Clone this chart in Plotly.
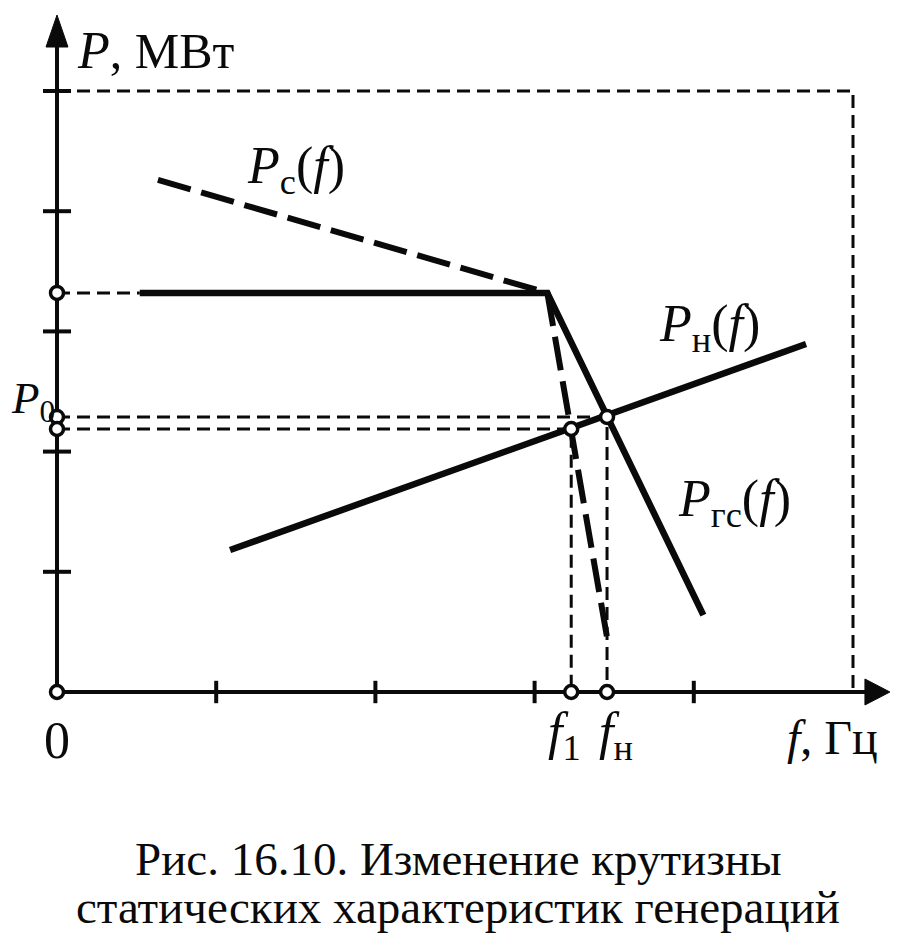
import plotly.graph_objects as go

# ---- data (axis units) ----
f_c = [0.634, 3.08, 3.46]      # P_c(f) dashed characteristic
P_c = [4.26, 3.32, 0.416]
f_gs = [0.52, 3.08, 4.06]      # P_gs(f) generation characteristic
P_gs = [3.32, 3.32, 0.64]
f_n = [1.087, 4.705]           # P_n(f) load characteristic
P_n = [1.181, 2.895]
f1 = 3.23
f_nom = 3.455
P0 = 2.288
P1 = 2.188
P_max = 3.32
f_lim = 5
P_lim = 5
x_ticks = [1, 2, 3, 4]
y_ticks = [1, 2, 3, 4, 5]

BLACK = "#0a0a0a"
SERIF = "Liberation Serif"
W, H = 900, 930

fig = go.Figure()

guide = dict(color=BLACK, width=3, dash="13px,7px")
fig.add_trace(go.Scatter(x=[0, f_lim, f_lim], y=[P_lim, P_lim, 0], mode="lines", line=guide))
fig.add_trace(go.Scatter(x=[0, f_gs[0]], y=[P_max, P_max], mode="lines", line=guide))
fig.add_trace(go.Scatter(x=[0, f_nom, f_nom], y=[P0, P0, 0], mode="lines", line=guide))
fig.add_trace(go.Scatter(x=[0, f1, f1], y=[P1, P1, 0], mode="lines", line=guide))

fig.add_trace(go.Scatter(x=f_c, y=P_c, mode="lines",
                         line=dict(color=BLACK, width=6, dash="34px,11px")))
fig.add_trace(go.Scatter(x=f_gs, y=P_gs, mode="lines", line=dict(color=BLACK, width=6.5)))
fig.add_trace(go.Scatter(x=f_n, y=P_n, mode="lines", line=dict(color=BLACK, width=6.5)))

# tick marks
fig.add_trace(go.Scatter(x=[0] * len(y_ticks), y=y_ticks, mode="markers",
                         marker=dict(symbol="line-ew", size=20, line=dict(color=BLACK, width=4))))
fig.add_trace(go.Scatter(x=x_ticks, y=[0] * len(x_ticks), mode="markers",
                         marker=dict(symbol="line-ns", size=16, line=dict(color=BLACK, width=4))))

# open circles
fig.add_trace(go.Scatter(x=[0, 0, 0, 0, f1, f_nom, f1, f_nom],
                         y=[0, P_max, P0, P1, P1, P0, 0, 0], mode="markers",
                         marker=dict(symbol="circle", size=13, color="white",
                                     line=dict(color=BLACK, width=3.5))))

# axes with arrows (drawn below traces)
fig.add_shape(type="line", x0=0, y0=0, x1=0, y1=5.45, line=dict(color=BLACK, width=4), layer="below")
fig.add_shape(type="line", x0=0, y0=0, x1=5.12, y1=0, line=dict(color=BLACK, width=4), layer="below")
fig.add_shape(type="path", path="M -0.069,5.366 L 0,5.632 L 0.069,5.366 Z",
              fillcolor=BLACK, line=dict(color=BLACK, width=1), layer="below")
fig.add_shape(type="path", path="M 5.075,-0.108 L 5.232,0 L 5.075,0.108 Z",
              fillcolor=BLACK, line=dict(color=BLACK, width=1), layer="below")

def label(text, x, y, size, xanchor="left", yanchor="middle"):
    fig.add_annotation(x=x, y=y, text=text, showarrow=False, xanchor=xanchor, yanchor=yanchor,
                       font=dict(family=SERIF, size=size, color=BLACK))

label("<i>P</i><span style='font-size:50px'>, МВт</span>", 0.11, 5.34, 52)
label("<i>P</i><sub>с</sub>(<i>f</i>)", 1.18, 4.35, 52)
label("<i>P</i><sub>н</sub>(<i>f</i>)", 3.77, 3.03, 52)
label("<i>P</i><sub>гс</sub>(<i>f</i>)", 3.89, 1.58, 52)
label("<i>P</i><sub>0</sub>", -0.30, 2.42, 45, xanchor="left")
label("0", 0, -0.40, 52, xanchor="center")
label("<i>f</i><sub>1</sub>", 3.19, -0.36, 52, xanchor="center")
label("<i>f</i><sub>н</sub>", 3.51, -0.36, 52, xanchor="center")
label("<i>f</i>, Гц", 4.57, -0.38, 48)

fig.add_annotation(x=0.5, y=1 - 851 / H, xref="paper", yref="paper", showarrow=False,
                   text="Рис. 16.10. Изменение крутизны", xanchor="center", yanchor="middle",
                   font=dict(family=SERIF, size=47, color=BLACK))
fig.add_annotation(x=0.5, y=1 - 899 / H, xref="paper", yref="paper", showarrow=False,
                   text="статических характеристик генераций", xanchor="center", yanchor="middle",
                   font=dict(family=SERIF, size=47, color=BLACK))

# page has an 8px body margin: axis origin lands at page pixel (57, 692)
x_min = -(57 - 8) / 159.2
y_max = (692 - 8) / 120.2
fig.update_layout(
    width=W, height=H, margin=dict(l=0, r=0, t=0, b=0),
    paper_bgcolor="white", plot_bgcolor="white", showlegend=False,
    xaxis=dict(range=[x_min, x_min + W / 159.2], visible=False, fixedrange=True),
    yaxis=dict(range=[y_max - H / 120.2, y_max], visible=False, fixedrange=True),
)

fig.write_html("out.html")
